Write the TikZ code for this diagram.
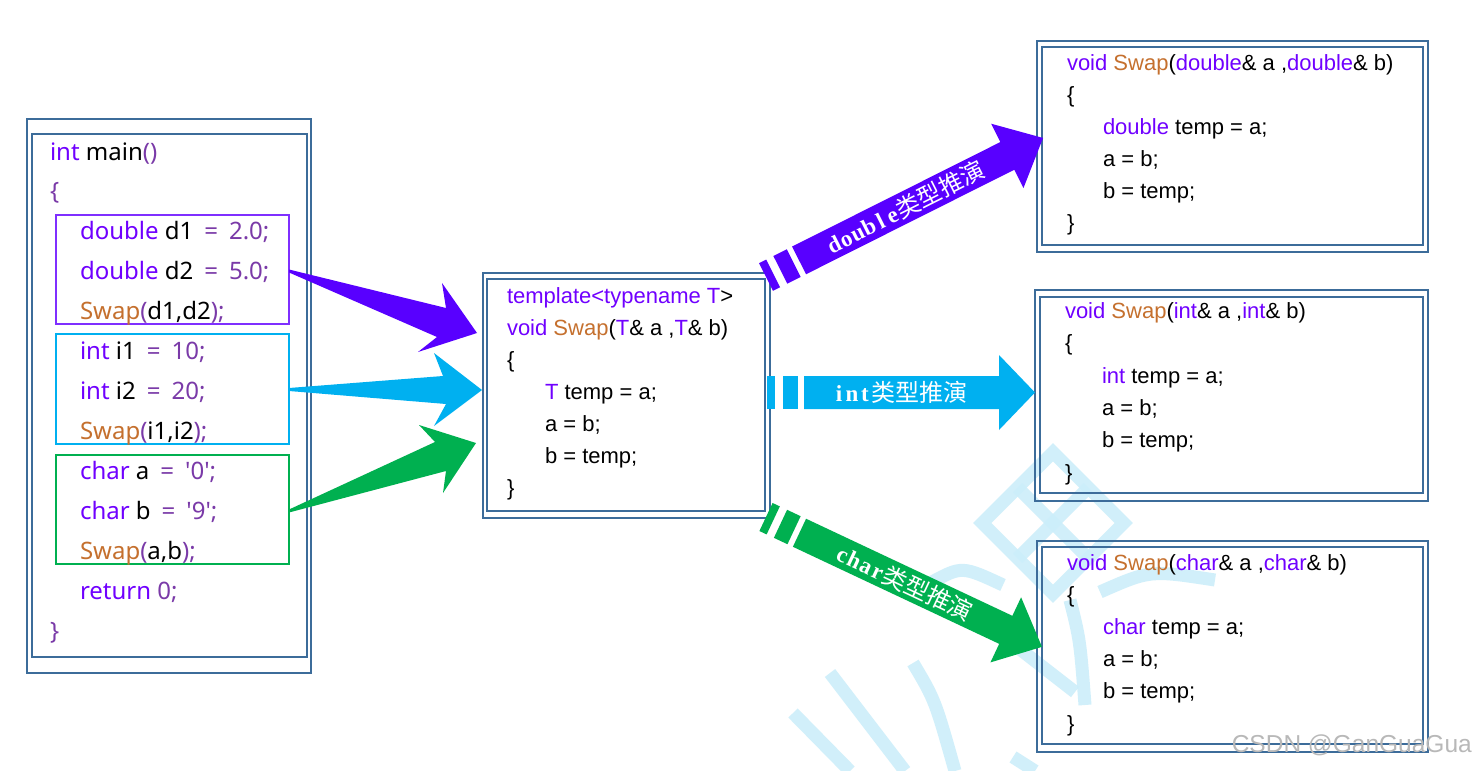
\documentclass[tikz,border=0pt]{standalone}
\usepackage{fontspec}
\setmainfont{Liberation Sans}
\newfontfamily\yh{Noto Sans}
\newfontfamily\cjk{Noto Sans CJK SC}
\newfontfamily\lserif{Liberation Serif}
\definecolor{kw}{HTML}{7000FF}
\definecolor{pu}{HTML}{7A3AA8}
\definecolor{sw}{HTML}{C5702E}
\definecolor{bx}{HTML}{3C6C9A}
\definecolor{vio}{HTML}{5800FF}
\definecolor{cy}{HTML}{00B0F0}
\definecolor{gr}{HTML}{00B050}
\definecolor{pbox}{HTML}{7F2FFF}
\definecolor{wm}{HTML}{CCEEFA}
\newcommand\Kw[1]{{\color{kw}#1}}
\newcommand\Pu[1]{{\color{pu}#1}}
\newcommand\Sw[1]{{\color{sw}#1}}
\newcommand\hw[1]{\makebox[13pt]{#1}}
\newcommand\striparrow[4]{% length, body half, head half, head length
  \fill (0,-#2) rectangle (8,#2);
  \fill (16,-#2) rectangle (31,#2);
  \fill (37,-#2) -- (#1-#4,-#2) -- (#1-#4,-#3) -- (#1,0) -- (#1-#4,#3) -- (#1-#4,#2) -- (37,#2) -- cycle;}
\tikzset{
  frame/.style={draw=bx, line width=2.3pt, inner sep=0pt, outer sep=0pt, anchor=north west},
  selbox/.style={line width=2pt, inner sep=0pt, outer sep=0pt, anchor=north west},
  code/.style={anchor=base west, inner sep=0pt, outer sep=0pt},
  lcode/.style={code, font=\yh\fontsize{24}{28}\selectfont},
  acode/.style={code, font=\fontsize{22}{26}\selectfont},
  lbl/.style={transform shape, text=white, inner sep=0pt, font=\lserif\bfseries\fontsize{23}{25}\selectfont},
  cjklbl/.style={},
  wmstroke/.style={draw=wm, line width=13pt, opacity=0.9},
}
\newcommand\lblcjk{\cjk\mdseries\fontsize{24}{26}\selectfont 类型推演}
\begin{document}
\begin{tikzpicture}[x=1pt,y=-1pt]
\useasboundingbox (0,0) rectangle (1476,771);
\fill[white] (0,0) rectangle (1476,771);

% watermark
\begin{scope}[shift={(1053,523)}, rotate=45]
  \draw[wmstroke] (-50,-50) rectangle (50,50);
  \draw[wmstroke] (0,-50) -- (0,50);
  \draw[wmstroke] (-50,0) -- (50,0);
\end{scope}
\draw[wmstroke] (1070,600) .. controls (1080,640) .. (1085,705);
\draw[wmstroke] (985,622) -- (1075,692);
\draw[wmstroke] (1100,592) .. controls (1150,570) .. (1215,580);
\draw[wmstroke] (932,582) .. controls (962,566) .. (1003,585);
\draw[wmstroke] (830,673) -- (905,771);
\draw[wmstroke] (793,713) -- (850,771);
\draw[wmstroke] (913,663) .. controls (935,700) .. (955,771);
\draw[wmstroke] (1013,757) -- (1035,771);

% left selection boxes
\node[selbox, draw=pbox, minimum width=233pt, minimum height=109pt] (dbox) at (56,215) {};
\node[selbox, draw=cy, minimum width=233pt, minimum height=110pt] (ibox) at (56,334) {};
\node[selbox, draw=gr, minimum width=233pt, minimum height=109pt] (cbox) at (56,455) {};

% frames
\node[frame, minimum width=284pt, minimum height=554pt] (mainO) at (27,119) {};
\node[frame, minimum width=275pt, minimum height=523pt] (mainI) at (32,134) {};
\node[frame, minimum width=287pt, minimum height=245pt] (tmplO) at (483,273) {};
\node[frame, minimum width=278pt, minimum height=232pt] (tmplI) at (487,279) {};
\node[frame, minimum width=391pt, minimum height=211pt] (dO) at (1037,41) {};
\node[frame, minimum width=381pt, minimum height=198pt] (dI) at (1042,47) {};
\node[frame, minimum width=393pt, minimum height=211pt] (iO) at (1035,290) {};
\node[frame, minimum width=383pt, minimum height=196pt] (iI) at (1040,297) {};
\node[frame, minimum width=391pt, minimum height=211pt] (cO) at (1037,541) {};
\node[frame, minimum width=381pt, minimum height=197pt] (cI) at (1042,547) {};

% left converging arrows
\fill[vio] (dbox.east) -- (446,308) -- (442,283) -- (477,333) -- (418,352) -- (437,337) -- ([yshift=-3pt]dbox.east) -- cycle;
\fill[cy] ([yshift=1pt]ibox.east) -- (443,376) -- (434,353) -- (482,390) -- (434,426) -- (446,404) -- ([yshift=-2pt]ibox.east) -- cycle;
\fill[gr] (cbox.east) -- (435,442) -- (419,425) -- (476,443) -- (443,493) -- (446,471) -- ([yshift=-3pt]cbox.east) -- cycle;

% right striped arrows
\coordinate (sD) at (766,277);
\coordinate (sI) at (767,392.5);
\coordinate (sC) at (766,517);
\begin{scope}[shift={(sD)}, rotate=26.65, fill=vio]
  \striparrow{310}{15.5}{36}{40}
  \node[lbl] (lblD) at (156,0) {\hw{d}\hw{o}\hw{u}\hw{b}\hw{l}\hw{e}\lblcjk};
\end{scope}
\begin{scope}[shift={(sI)}, fill=cy]
  \striparrow{268}{16.5}{37.5}{36}
  \node[lbl] (lblI) at (133,0) {\hw{i}\hw{n}\hw{t}\lblcjk};
\end{scope}
\begin{scope}[shift={(sC)}, rotate=-25.2, fill=gr]
  \striparrow{305}{15.5}{36}{40}
  \node[lbl] (lblC) at (153,0) {\hw{c}\hw{h}\hw{a}\hw{r}\lblcjk};
\end{scope}

% left code
\node[lcode] (m1) at (50,160) {\Kw{int} main\Pu{()}};
\node[lcode] (m2) at (50,199) {\Pu{\{}};
\node[lcode] (m3) at (80,239) {\Kw{double} d1\hspace{11pt}\Pu{=\hspace{11pt}2.0;}};
\node[lcode] (m4) at (80,279) {\Kw{double} d2\hspace{11pt}\Pu{=\hspace{11pt}5.0;}};
\node[lcode] (m5) at (80,319) {\Sw{Swap}\Pu{(}d1,d2\Pu{);}};
\node[lcode] (m6) at (80,359) {\Kw{int} i1\hspace{11pt}\Pu{=\hspace{11pt}10;}};
\node[lcode] (m7) at (80,399) {\Kw{int} i2\hspace{11pt}\Pu{=\hspace{11pt}20;}};
\node[lcode] (m8) at (80,439) {\Sw{Swap}\Pu{(}i1,i2\Pu{);}};
\node[lcode] (m9) at (80,479) {\Kw{char} a\hspace{11pt}\Pu{=\hspace{11pt}\textquotesingle 0\textquotesingle;}};
\node[lcode] (m10) at (80,519) {\Kw{char} b\hspace{11pt}\Pu{=\hspace{11pt}\textquotesingle 9\textquotesingle;}};
\node[lcode] (m11) at (80,559) {\Sw{Swap}\Pu{(}a,b\Pu{);}};
\node[lcode] (m12) at (80,599) {\Kw{return} \Pu{0;}};
\node[lcode] (m13) at (50,639) {\Pu{\}}};

% template code
\node[acode] (t1) at (507,303) {\Kw{template<typename T}>};
\node[acode] (t2) at (507,335) {\Kw{void} \Sw{Swap}(\Kw{T}\& a ,\Kw{T}\& b)};
\node[acode] (t3) at (507,367) {\{};
\node[acode] (t4) at (545,399) {\Kw{T} temp = a;};
\node[acode] (t5) at (545,431) {a = b;};
\node[acode] (t6) at (545,463) {b = temp;};
\node[acode] (t7) at (507,495) {\}};

% double instance
\node[acode] (d1) at (1067,70) {\Kw{void} \Sw{Swap}(\Kw{double}\& a ,\Kw{double}\& b)};
\node[acode] (d2) at (1067,102) {\{};
\node[acode] (d3) at (1103,134) {\Kw{double} temp = a;};
\node[acode] (d4) at (1103,166) {a = b;};
\node[acode] (d5) at (1103,198) {b = temp;};
\node[acode] (d6) at (1067,230) {\}};

% int instance
\node[acode] (i1) at (1065,318) {\Kw{void} \Sw{Swap}(\Kw{int}\& a ,\Kw{int}\& b)};
\node[acode] (i2) at (1065,350) {\{};
\node[acode] (i3) at (1102,383) {\Kw{int} temp = a;};
\node[acode] (i4) at (1102,415) {a = b;};
\node[acode] (i5) at (1102,447) {b = temp;};
\node[acode] (i6) at (1065,480) {\}};

% char instance
\node[acode] (c1) at (1067,570) {\Kw{void} \Sw{Swap}(\Kw{char}\& a ,\Kw{char}\& b)};
\node[acode] (c2) at (1067,602) {\{};
\node[acode] (c3) at (1103,634) {\Kw{char} temp = a;};
\node[acode] (c4) at (1103,666) {a = b;};
\node[acode] (c5) at (1103,698) {b = temp;};
\node[acode] (c6) at (1067,731) {\}};

% CSDN watermark
\node[anchor=base east, inner sep=0pt, text=black!28, font=\fontsize{24.5}{26}\selectfont] (csdn) at (1472,752) {CSDN @GanGuaGua};
\end{tikzpicture}
\end{document}
